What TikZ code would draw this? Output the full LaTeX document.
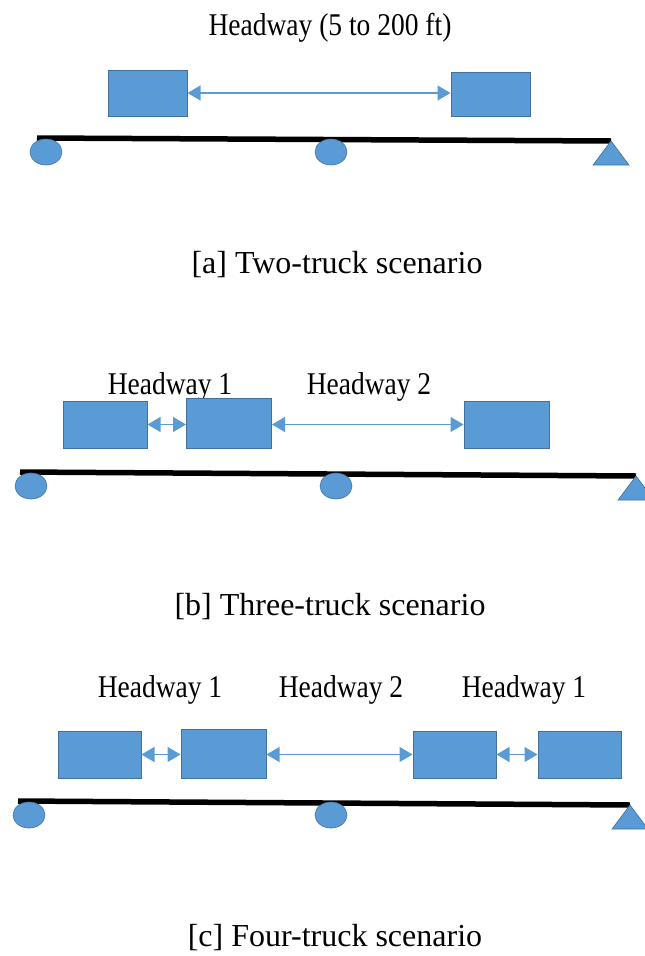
\documentclass[tikz,border=0pt]{standalone}
\usepackage{fontspec}
\setmainfont{Liberation Serif}
\usetikzlibrary{arrows.meta,shapes.geometric}
\definecolor{truckfill}{HTML}{5B9BD5}
\definecolor{truckedge}{HTML}{41719C}
\definecolor{arrowcol}{HTML}{5B9BD5}
\tikzset{
  truck/.style={draw=truckedge, fill=truckfill, line width=1pt, rectangle, inner sep=0pt, minimum width=80pt, minimum height=46pt},
  harrow/.style={draw=arrowcol, line width=1.2pt, >={Triangle[length=13pt,width=15pt]}, <->},
  beam/.style={draw=black, line width=5.5pt},
  roller/.style={ellipse, draw=truckedge, fill=truckfill, line width=0.6pt, minimum width=32pt, minimum height=26pt, inner sep=0pt},
  pin/.style={draw=truckedge, fill=truckfill, line width=0.6pt},
  hlabel/.style={font=\fontsize{27.5}{30}\selectfont, yscale=1.15, transform shape, inner sep=0pt},
  caption/.style={font=\fontsize{32}{36}\selectfont, inner sep=0pt, anchor=base}
}
\begin{document}
\begin{tikzpicture}[x=1pt,y=-1pt]
\useasboundingbox (0,0) rectangle (645,956);

% ---------- Panel a ----------
\node[hlabel] (la) at (330,28) {Headway (5 to 200 ft)};
\node[truck, minimum width=79pt, minimum height=46pt] (a1) at (147.5,93) {};
\node[truck, minimum width=79pt, minimum height=44pt] (a2) at (490.5,94) {};
\draw[harrow] (a1.east) -- (a1.east -| a2.west);
\coordinate (abl) at (37,138);
\coordinate (abr) at (611,141);
\draw[beam] (abl) -- (abr);
\node[roller] (ar1) at (46,152) {};
\node[roller] (ar2) at (331,152) {};
\draw[pin] (abr) -- ++(18,24) -- ++(-36,0) -- cycle;
\node[caption] (ca) at (337,273) {[a] Two-truck scenario};

% ---------- Panel b ----------
\node[hlabel] (lb1) at (170,387) {Headway 1};
\node[hlabel] (lb2) at (369,387) {Headway 2};
\node[truck, minimum width=84pt, minimum height=47pt] (b1) at (105,424.5) {};
\node[truck, minimum width=85pt, minimum height=50pt] (b2) at (229,423) {};
\node[truck, minimum width=85pt, minimum height=47pt] (b3) at (506.5,424.5) {};
\draw[harrow] (b1.east) -- (b1.east -| b2.west);
\draw[harrow] (b2.east |- b3.west) -- (b3.west);
\coordinate (bbl) at (20,472);
\coordinate (bbr) at (636,476);
\draw[beam] (bbl) -- (bbr);
\node[roller] (br1) at (31,486) {};
\node[roller] (br2) at (336,486) {};
\draw[pin] (bbr) -- ++(18,24) -- ++(-36,0) -- cycle;
\node[caption] (cb) at (330,615) {[b] Three-truck scenario};

% ---------- Panel c ----------
\node[hlabel] (lc1) at (160,690) {Headway 1};
\node[hlabel] (lc2) at (341,690) {Headway 2};
\node[hlabel] (lc3) at (524,690) {Headway 1};
\node[truck, minimum width=83pt, minimum height=47pt] (c1) at (99.5,754.5) {};
\node[truck, minimum width=85pt, minimum height=49pt] (c2) at (223.5,753.5) {};
\node[truck, minimum width=83pt, minimum height=47pt] (c3) at (454.5,754.5) {};
\node[truck, minimum width=83pt, minimum height=47pt] (c4) at (579.5,754.5) {};
\draw[harrow] (c1.east) -- (c1.east -| c2.west);
\draw[harrow] (c2.east |- c3.west) -- (c3.west);
\draw[harrow] (c3.east) -- (c3.east -| c4.west);
\coordinate (cbl) at (18,801);
\coordinate (cbr) at (630,805);
\draw[beam] (cbl) -- (cbr);
\node[roller] (cr1) at (29,815) {};
\node[roller] (cr2) at (331,815) {};
\draw[pin] (cbr) -- ++(18,24) -- ++(-36,0) -- cycle;
\node[caption] (cc) at (335,946) {[c] Four-truck scenario};
\end{tikzpicture}
\end{document}
